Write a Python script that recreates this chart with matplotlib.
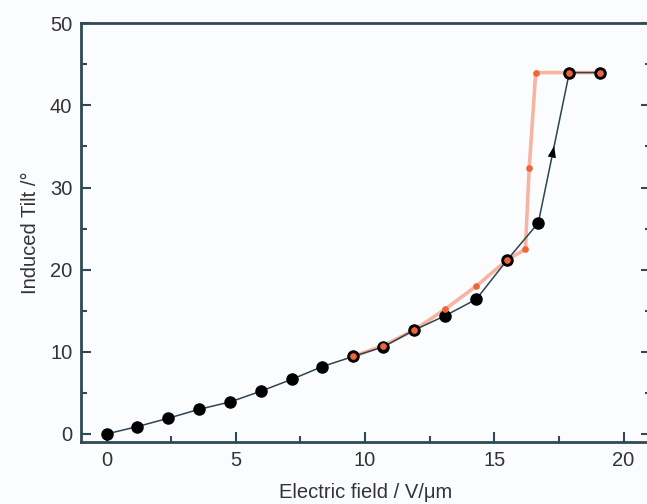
import numpy as np
import matplotlib
matplotlib.use("Agg")
import matplotlib.pyplot as plt
from matplotlib.ticker import MultipleLocator

# black series (field in V/um, tilt in degrees)
field_black = [0, 1.19, 2.37, 3.57, 4.78, 5.96, 7.16, 8.34, 9.55, 10.7,
               11.9, 13.1, 14.3, 15.5, 16.7, 17.9, 19.1]
tilt_black = [0, 0.9, 1.9, 3.0, 3.9, 5.2, 6.65, 8.2, 9.45, 10.6,
              12.65, 14.4, 16.4, 21.2, 25.7, 44.0, 44.0]

# orange series
field_orange = [9.55, 10.7, 11.9, 13.1, 14.3, 15.5, 16.2, 16.35, 16.6, 17.9, 19.1]
tilt_orange = [9.45, 10.75, 12.65, 15.2, 18.0, 21.2, 22.5, 32.4, 44.0, 44.0, 44.0]

spine_col = "#2f4a55"
txt_col = "#333333"
orange = "#f0643c"

plt.rcParams['font.family'] = ['Liberation Sans', 'DejaVu Sans']

fig = plt.figure(figsize=(6.47, 5.04), dpi=100, facecolor="#fbfcfe")
# right spine sits just past the image edge, as in the source
ax = fig.add_axes([0.1247, 0.1226, 0.8815, 0.8312])
ax.set_facecolor("#fbfcfe")

# orange line under everything
ax.plot(field_orange, tilt_orange, color="#f7a890", lw=2.6, alpha=0.85, zorder=1,
        solid_joinstyle="round")
# black line + markers
ax.plot(field_black, tilt_black, color="#2c4550", lw=1.1, zorder=2)
ax.plot(field_black, tilt_black, "o", color="black", ms=8, zorder=3)
# orange markers on top
ax.plot(field_orange, tilt_orange, "o", color=orange, ms=3.8, mec=orange, zorder=4)

# arrow head on the rising black segment
x0, y0 = field_black[14], tilt_black[14]
x1, y1 = field_black[15], tilt_black[15]
xa, ya = x0 + 0.47 * (x1 - x0), y0 + 0.47 * (y1 - y0)
ax.annotate("", xy=(xa + 0.06 * (x1 - x0), ya + 0.06 * (y1 - y0)), xytext=(xa, ya),
            arrowprops=dict(arrowstyle="-|>,head_length=0.7,head_width=0.25",
                            color="black", lw=0, mutation_scale=12),
            zorder=5)

ax.set_xlim(-1, 21.06)
ax.set_ylim(-1, 50)
ax.xaxis.set_major_locator(MultipleLocator(5))
ax.xaxis.set_minor_locator(MultipleLocator(2.5))
ax.yaxis.set_major_locator(MultipleLocator(10))
ax.yaxis.set_minor_locator(MultipleLocator(5))

ax.tick_params(which="both", direction="in", color=spine_col, width=1.5,
               labelsize=14.5, labelcolor=txt_col, top=False, right=True)
ax.tick_params(which="major", length=7)
ax.tick_params(which="minor", length=4)
ax.tick_params(axis="x", pad=6)
ax.tick_params(axis="y", pad=6)

for s in ax.spines.values():
    s.set_color(spine_col)
    s.set_linewidth(2)

ax.set_xlabel("Electric field / V/\u03bcm", fontsize=14.5, color=txt_col, labelpad=10)
ax.set_ylabel("Induced Tilt /\u00b0", fontsize=14.5, color=txt_col, labelpad=7)

fig.savefig("out.png", dpi=100, facecolor=fig.get_facecolor())
